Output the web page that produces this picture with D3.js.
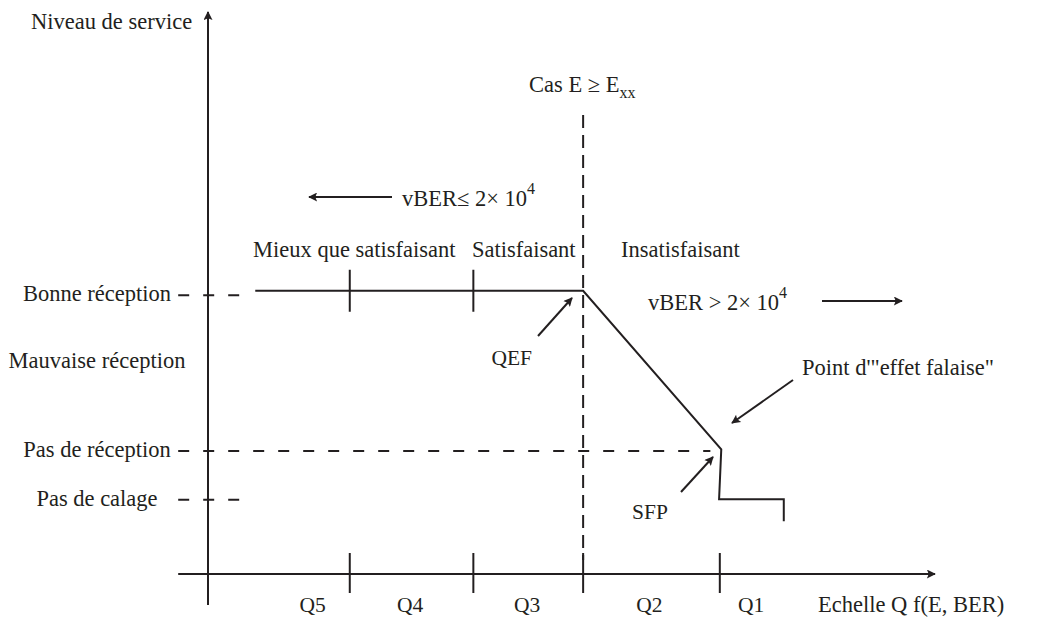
<!DOCTYPE html>
<html>
<head>
<meta charset="utf-8">
<script src="https://cdn.jsdelivr.net/npm/d3@7"></script>
<style>
  body { margin: 0; background: #fff; }
  text { font-family: 'Liberation Serif', 'Times New Roman', serif; fill: #231f20; }
</style>
</head>
<body>
<div id="chart"></div>
<script>
// service levels (y) and Q scale (x), both in 0..100 chart units
const levels = ['Bonne réception', 'Mauvaise réception', 'Pas de réception', 'Pas de calage']
const levelValues = [49.6, 37.7, 21.9, 13.2]
const levelDashEnd = [5.1, null, 69.1, 5.1]

const zones = ['Q5', 'Q4', 'Q3', 'Q2', 'Q1']
const zoneBounds = [19.5, 36.5, 51.6, 70.4]
const zoneLabelX = [14.4, 27.8, 43.9, 60.7, 74.7]

const qualityLabels = ['Mieux que satisfaisant', 'Satisfaisant', 'Insatisfaisant']
const qualityLabelX = [6.2, 36.3, 56.8]

const serviceCurve = [[6.5, 50.4], [51.6, 50.4], [70.6, 22.2], [70.3, 13.3], [79.2, 13.3], [79.2, 9.4]]
const curveTicks = [19.5, 36.5]
const thresholdX = 51.6

const width = 1056
const height = 619
const color = '#231f20'
const fs = 22.5

const svg = d3.select('#chart').append('svg')
  .attr('width', width).attr('height', height)
  .attr('viewBox', [0, 0, width, height])

const x = d3.scaleLinear().domain([0, 100]).range([208, 935])
const y = d3.scaleLinear().domain([0, 100]).range([574, 12])

svg.append('defs').append('marker')
  .attr('id', 'head')
  .attr('viewBox', '0 0 10 10')
  .attr('refX', 9).attr('refY', 5)
  .attr('markerWidth', 12).attr('markerHeight', 9)
  .attr('markerUnits', 'userSpaceOnUse')
  .attr('orient', 'auto')
  .append('path').attr('d', 'M0,0 L10,5 L0,10 L2,5 Z').attr('fill', color)

const line = (x1, y1, x2, y2) => svg.append('line')
  .attr('x1', x1).attr('y1', y1).attr('x2', x2).attr('y2', y2)
  .attr('stroke', color).attr('stroke-width', 2)

// axes
line(x(0), y(-5.5), x(0), y(100)).attr('marker-end', 'url(#head)')
line(x(-4.1), y(0), x(100), y(0)).attr('marker-end', 'url(#head)')
zoneBounds.forEach(b => line(x(b), y(0) - 21, x(b), y(0) + 19))

// zone labels
svg.selectAll('.zone').data(zones).join('text')
  .attr('x', (d, i) => x(zoneLabelX[i])).attr('y', y(0) + 38)
  .attr('text-anchor', 'middle').attr('font-size', 21.5)
  .text(d => d)
svg.append('text').attr('x', 818).attr('y', y(0) + 38).attr('font-size', fs)
  .text('Echelle Q f(E, BER)')

// level labels and dashed guides
svg.selectAll('.level').data(levels).join('text')
  .attr('x', 97).attr('y', (d, i) => y(levelValues[i]) + 6)
  .attr('text-anchor', 'middle').attr('font-size', fs)
  .text(d => d)
levels.forEach((d, i) => {
  if (levelDashEnd[i] == null) return
  line(x(-4.1), y(levelValues[i]), x(levelDashEnd[i]), y(levelValues[i]))
    .attr('stroke-dasharray', '11,14')
})

svg.append('text').attr('x', 31).attr('y', 29).attr('font-size', fs).text('Niveau de service')

// threshold E >= Exx
line(x(thresholdX), 115, x(thresholdX), y(0) - 14).attr('stroke-dasharray', '13,7')
const cas = svg.append('text').attr('x', 529).attr('y', 92).attr('font-size', fs)
cas.append('tspan').text('Cas E ≥ E')
cas.append('tspan').attr('dy', 6).attr('font-size', 16).text('xx')

// service curve
svg.append('path')
  .attr('d', d3.line().x(d => x(d[0])).y(d => y(d[1]))(serviceCurve))
  .attr('fill', 'none').attr('stroke', color).attr('stroke-width', 2)
curveTicks.forEach(t => line(x(t), y(serviceCurve[0][1]) - 21, x(t), y(serviceCurve[0][1]) + 21))

svg.selectAll('.quality').data(qualityLabels).join('text')
  .attr('x', (d, i) => x(qualityLabelX[i])).attr('y', 257)
  .attr('font-size', fs)
  .text(d => d)

// vBER annotations
const ber = (tx, ty, txt) => {
  const t = svg.append('text').attr('x', tx).attr('y', ty).attr('font-size', fs)
  t.append('tspan').text(txt)
  t.append('tspan').attr('dy', -12).attr('font-size', 16).text('4')
}
ber(402, 206, 'vBER≤ 2× 10')
line(392, 197, 309, 197).attr('marker-end', 'url(#head)')
ber(648, 310, 'vBER > 2× 10')
line(822, 301, 902, 301).attr('marker-end', 'url(#head)')

// pointers
line(538, 336, 572, 298).attr('marker-end', 'url(#head)')
svg.append('text').attr('x', 532).attr('y', 365).attr('text-anchor', 'end').attr('font-size', 21.5).text('QEF')
line(793, 380, 732, 423).attr('marker-end', 'url(#head)')
svg.append('text').attr('x', 802).attr('y', 375).attr('font-size', fs).text('Point d\'"effet falaise"')
line(681, 492, 713, 457).attr('marker-end', 'url(#head)')
svg.append('text').attr('x', 632).attr('y', 519).attr('font-size', 21.5).text('SFP')
</script>
</body>
</html>
